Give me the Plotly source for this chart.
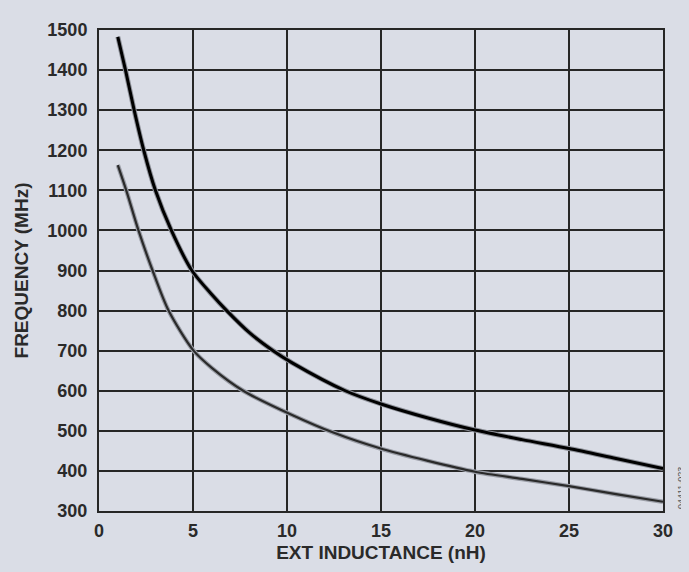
import plotly.graph_objects as go

# Data
upper_x = [1, 1.41, 1.87, 2.38, 3.0, 3.85, 4.94, 6.0, 6.79, 8.0, 9.26, 10.3, 13.1, 15, 17.5, 20, 22.5, 25, 27.5, 30]
upper_y = [1483, 1400, 1300, 1200, 1100, 1000, 900, 840, 800, 745, 700, 669, 600, 567, 532, 502, 478, 456, 431, 406]

lower_x = [1, 1.45, 2.1, 2.85, 3.7, 5.03, 6.0, 7.67, 10.3, 12.5, 14.9, 17.5, 20, 22.5, 25, 27.5, 30]
lower_y = [1163, 1100, 1000, 900, 800, 700, 657, 600, 539, 495, 457, 425, 398, 380, 362, 342, 323]

x_ticks = [0, 5, 10, 15, 20, 25, 30]
y_ticks = [300, 400, 500, 600, 700, 800, 900, 1000, 1100, 1200, 1300, 1400, 1500]

BG = "#dadde6"
FONT = "Liberation Sans"
TXT = "#2a2a2a"

fig = go.Figure()

# halo under curves
fig.add_trace(go.Scatter(x=lower_x, y=lower_y, mode="lines", line=dict(color="#9a9da6", width=4.5, shape="spline", smoothing=0.8), hoverinfo="skip", showlegend=False))
fig.add_trace(go.Scatter(x=lower_x, y=lower_y, mode="lines", line=dict(color="#2a2a2a", width=2.2, shape="spline", smoothing=0.8), showlegend=False))
fig.add_trace(go.Scatter(x=upper_x, y=upper_y, mode="lines", line=dict(color="#8e9199", width=5, shape="spline", smoothing=0.8), hoverinfo="skip", showlegend=False))
fig.add_trace(go.Scatter(x=upper_x, y=upper_y, mode="lines", line=dict(color="#000000", width=3, shape="spline", smoothing=0.8), showlegend=False))

axis_common = dict(
    showgrid=True, gridcolor="#262626", gridwidth=2,
    showline=True, linecolor="#262626", linewidth=2, mirror=True,
    zeroline=False, ticks="",
    tickfont=dict(family=FONT, size=18, color=TXT, weight="bold"),
)

fig.update_xaxes(range=[0, 30], tickvals=x_ticks, ticktext=[str(v) for v in x_ticks],
                 ticklabelstandoff=2,
                 title=dict(text="EXT INDUCTANCE (nH)", font=dict(family=FONT, size=19, color=TXT, weight="bold"), standoff=6),
                 **axis_common)
fig.update_yaxes(range=[300, 1500], tickvals=y_ticks, ticktext=[str(v) for v in y_ticks],
                 ticklabelstandoff=6,
                 title=dict(text="FREQUENCY (MHz)", font=dict(family=FONT, size=19, color=TXT, weight="bold"), standoff=14),
                 **axis_common)

fig.add_annotation(text="04411-023", xref="paper", yref="paper", x=1.0, y=0.0,
                   xanchor="left", yanchor="bottom", xshift=11, yshift=0, textangle=-90,
                   showarrow=False, font=dict(family=FONT, size=9, color="#555555"))

# page body has an 8px margin, so size the figure to end at the window edge
fig.update_layout(
    width=681, height=564,
    margin=dict(l=87, r=26, t=13, b=53),
    paper_bgcolor=BG, plot_bgcolor=BG,
)

fig.write_html("out.html", post_script="document.body.style.background='%s';" % BG)
